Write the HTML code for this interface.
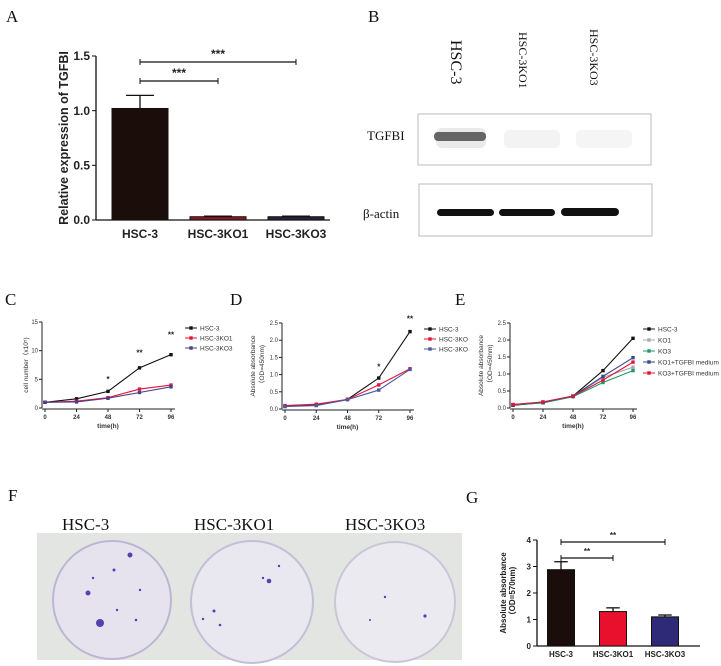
<!DOCTYPE html>
<html><head><meta charset="utf-8"><style>
body{margin:0;background:#fff;}
svg{display:block;font-family:"Liberation Sans",sans-serif;}
.lbl{font-family:"Liberation Serif","Noto Serif CJK SC",serif;}
</style></head><body>
<svg id="fig" width="721" height="666" viewBox="0 0 721 666">
<g class="lbl" font-size="17" fill="#111">
<text x="6" y="22">A</text><text x="368" y="22">B</text><text x="5" y="305">C</text>
<text x="230" y="305">D</text><text x="455" y="305">E</text><text x="8" y="501">F</text><text x="466" y="503">G</text>
</g>
<!-- Panel B western blot -->
<g>
<g class="lbl" font-size="14" fill="#111">
<text transform="translate(451,40) rotate(90)" font-size="16">HSC-3</text>
<text transform="translate(519,32) rotate(90)" font-size="12">HSC-3KO1</text>
<text transform="translate(590,29) rotate(90)" font-size="12">HSC-3KO3</text>
<text x="367" y="140" font-size="13">TGFBI</text>
<text x="363" y="218" font-size="13">β-actin</text>
</g>
<rect x="418" y="114" width="233" height="51" fill="#fff" stroke="#bbb"/>
<rect x="436" y="128" width="50" height="20" rx="6" fill="#aaa" opacity="0.25"/>
<rect x="434" y="132" width="52" height="9" rx="4" fill="#444" opacity="0.8"/>
<rect x="504" y="130" width="56" height="18" rx="5" fill="#f3f3f3"/>
<rect x="576" y="130" width="56" height="18" rx="5" fill="#f5f5f5"/>
<rect x="419" y="184" width="233" height="52" fill="#fff" stroke="#bbb"/>
<rect x="437" y="209" width="57" height="7" rx="3.5" fill="#111"/>
<rect x="499" y="209" width="56" height="7" rx="3.5" fill="#111"/>
<rect x="561" y="208" width="58" height="8" rx="4" fill="#111"/>
</g>
<!-- Panel F photo -->
<g>
<text class="lbl" x="62" y="530" font-size="17" fill="#111">HSC-3</text>
<text class="lbl" x="194" y="530" font-size="17" fill="#111">HSC-3KO1</text>
<text class="lbl" x="345" y="530" font-size="17" fill="#111">HSC-3KO3</text>
<rect x="37" y="533" width="425" height="127" fill="#e3e5e3"/>
<circle cx="112" cy="600" r="59" fill="#e6e3ef" stroke="#bdb6d3" stroke-width="2"/>
<circle cx="252" cy="602" r="61" fill="#e9e7f0" stroke="#c4bfd6" stroke-width="2"/>
<circle cx="395" cy="602" r="60" fill="#ebeaf0" stroke="#cac6d8" stroke-width="2"/>
<g fill="#5a3fb0">
<circle cx="100" cy="623" r="4"/><circle cx="88" cy="593" r="2.5"/><circle cx="130" cy="555" r="2.5"/><circle cx="114" cy="570" r="1.5"/><circle cx="136" cy="620" r="1.3"/><circle cx="93" cy="578" r="1.2"/><circle cx="117" cy="610" r="1.2"/><circle cx="140" cy="590" r="1.2"/>
<circle cx="269" cy="581" r="2.3"/><circle cx="214" cy="611" r="1.5"/><circle cx="220" cy="625" r="1.3"/><circle cx="279" cy="566" r="1.2"/><circle cx="263" cy="578" r="1.2"/><circle cx="203" cy="619" r="1.2"/>
<circle cx="425" cy="616" r="1.6"/><circle cx="385" cy="597" r="1.2"/><circle cx="370" cy="620" r="1"/>
</g>
</g>
<g id="charts"></g>
</svg>
<script>
// ---- Panel A data ----
const aCats = ["HSC-3","HSC-3KO1","HSC-3KO3"];
const aVals = [1.02, 0.03, 0.03];
const aErr = [0.12, 0.005, 0.005];
const aTicks = [0, 0.5, 1.0, 1.5];
const aTickLbl = ["0.0","0.5","1.0","1.5"];
// ---- Panel G data ----
const gCats = ["HSC-3","HSC-3KO1","HSC-3KO3"];
const gVals = [2.88, 1.3, 1.1];
const gErr = [0.3, 0.14, 0.07];
const gTicks = [0,1,2,3,4];
// ---- Panel C data ----
const times = [0,24,48,72,96];
const cSeries = ["HSC-3","HSC-3KO1","HSC-3KO3"];
const cHSC3 = [1,1.6,2.9,7,9.3];
const cKO1 = [1,1.2,1.8,3.3,4];
const cKO3 = [1,1.05,1.7,2.7,3.7];
const cTicks = [0,5,10,15];
// ---- Panel D data ----
const dSeries = ["HSC-3","HSC-3KO","HSC-3KO"];
const dHSC3 = [0.08,0.12,0.28,0.9,2.25];
const dKO1 = [0.1,0.14,0.28,0.7,1.17];
const dKO3 = [0.07,0.1,0.27,0.55,1.15];
const odTicks = [0,0.5,1.0,1.5,2.0,2.5];
const odTickLbl = ["0.0","0.5","1.0","1.5","2.0","2.5"];
// ---- Panel E data ----
const eSeries = ["HSC-3","KO1","KO3","KO1+TGFBI  medium","KO3+TGFBI  medium"];
const eHSC3 = [0.08,0.16,0.35,1.1,2.05];
const eKO1 = [0.1,0.17,0.35,0.9,1.2];
const eKO3 = [0.09,0.15,0.33,0.75,1.1];
const eKO1T = [0.1,0.17,0.35,0.93,1.48];
const eKO3T = [0.1,0.18,0.35,0.82,1.35];

const NS="http://www.w3.org/2000/svg";
const root=document.getElementById('charts');
function el(tag,attrs,parent,text){const e=document.createElementNS(NS,tag);for(const k in attrs)e.setAttribute(k,attrs[k]);if(text!==undefined)e.textContent=text;(parent||root).appendChild(e);return e;}

function barChart(name,cfg,cats,vals,errs,ticks,tickLbl,colors,sigs){
  const g=el('g',{});
  
  
  const y=v=>cfg.y0-(v-ticks[0])/(ticks[ticks.length-1]-ticks[0])*(cfg.y0-cfg.y1);
  el('line',{x1:cfg.x0,y1:cfg.y0,x2:cfg.x0,y2:cfg.y1,stroke:'#111','stroke-width':1.3},g);
  el('line',{x1:cfg.x0,y1:cfg.y0,x2:cfg.xEnd,y2:cfg.y0,stroke:'#111','stroke-width':1.3},g);
  ticks.forEach((t,i)=>{el('line',{x1:cfg.x0-4,x2:cfg.x0,y1:y(t),y2:y(t),stroke:'#111'},g);
    el('text',{x:cfg.x0-6,y:y(t)+cfg.fs*0.35,'text-anchor':'end','font-size':cfg.fs,'font-weight':'bold',fill:'#222'},g,tickLbl?tickLbl[i]:String(t));});
  vals.forEach((v,i)=>{const cx=cfg.bx0+i*cfg.step;
    const r=el('rect',{x:cx-cfg.bw/2,y:y(v),width:cfg.bw,height:cfg.y0-y(v),fill:colors[i],stroke:'#111'},g);
    
    
    el('line',{x1:cx,x2:cx,y1:y(v),y2:y(v+errs[i]),stroke:'#111','stroke-width':1.3},g);
    el('line',{x1:cx-cfg.bw/4,x2:cx+cfg.bw/4,y1:y(v+errs[i]),y2:y(v+errs[i]),stroke:'#111','stroke-width':1.3},g);
    el('text',{x:cx,y:cfg.y0+cfg.lblDy,'text-anchor':'middle','font-size':cfg.fs,'font-weight':'bold',fill:'#222'},g,cats[i]);});
  sigs.forEach(s=>{const x1=cfg.bx0+s.a*cfg.step,x2=cfg.bx0+s.b*cfg.step;
    el('line',{x1:x1,x2:x2,y1:s.y,y2:s.y,stroke:'#111','stroke-width':1.2},g);
    el('line',{x1:x1,x2:x1,y1:s.y-3,y2:s.y+3,stroke:'#111'},g);el('line',{x1:x2,x2:x2,y1:s.y-3,y2:s.y+3,stroke:'#111'},g);
    el('text',{x:(x1+x2)/2,y:s.y-4,'text-anchor':'middle','font-size':cfg.fs,'font-weight':'bold',fill:'#222'},g,s.t);});
  el('text',{transform:`translate(${cfg.titleX},${(cfg.y0+cfg.y1)/2}) rotate(-90)`,'text-anchor':'middle','font-size':cfg.tfs,'font-weight':'bold',fill:'#222'},g,cfg.title);
  if(cfg.title2)el('text',{transform:`translate(${cfg.titleX+9},${(cfg.y0+cfg.y1)/2}) rotate(-90)`,'text-anchor':'middle','font-size':cfg.tfs,'font-weight':'bold',fill:'#222'},g,cfg.title2);
}
barChart('chart-a-tgfbi-expression',{x0:96,xEnd:330,y0:220,y1:56,bx0:140,step:78,bw:56,fs:12,lblDy:18,titleX:68,tfs:12.5,title:'Relative expression of TGFBI'},
  aCats,aVals,aErr,aTicks,aTickLbl,['#1a0d0a','#8a1a20','#2a2040'],[{a:0,b:1,y:81,t:'***'},{a:0,b:2,y:62,t:'***'}]);
barChart('chart-g-colony-absorbance',{x0:537,xEnd:700,y0:646,y1:540,bx0:561,step:52,bw:27,fs:8,lblDy:11,titleX:506,tfs:8,title:'Absolute absorbance',title2:'（OD=570nm)'},
  gCats,gVals,gErr,gTicks,null,['#1a0d0a','#e8102c','#2e2a78'],[{a:0,b:1,y:558,t:'**'},{a:0,b:2,y:542,t:'**'}]);

function lineChart(name,cfg,series,data,colors,ticks,tickLbl,stars){
  const g=el('g',{});
  
  
  const x=t=>cfg.x0+(t-times[0])/(times[times.length-1]-times[0])*(cfg.x1-cfg.x0);
  const y=v=>cfg.y0-(v-ticks[0])/(ticks[ticks.length-1]-ticks[0])*(cfg.y0-cfg.y1);
  el('line',{x1:cfg.x0-3,y1:cfg.y0,x2:cfg.x0-3,y2:cfg.y1,stroke:'#222'},g);
  el('line',{x1:cfg.x0-3,y1:cfg.y0+1,x2:cfg.x1+4,y2:cfg.y0+1,stroke:'#222'},g);
  ticks.forEach((t,i)=>{el('line',{x1:cfg.x0-6,x2:cfg.x0-3,y1:y(t),y2:y(t),stroke:'#222'},g);
    el('text',{x:cfg.x0-7,y:y(t)+2,'text-anchor':'end','font-size':6,fill:'#333'},g,tickLbl?tickLbl[i]:String(t));});
  times.forEach(t=>{el('line',{x1:x(t),x2:x(t),y1:cfg.y0+1,y2:cfg.y0+4,stroke:'#222'},g);
    el('text',{x:x(t),y:cfg.y0+11,'text-anchor':'middle','font-size':6,'font-weight':'bold',fill:'#333'},g,String(t));});
  el('text',{x:(cfg.x0+cfg.x1)/2,y:cfg.y0+20,'text-anchor':'middle','font-size':6.5,'font-weight':'bold',fill:'#333'},g,'time(h)');
  el('text',{transform:`translate(${cfg.x0-cfg.tx},${(cfg.y0+cfg.y1)/2}) rotate(-90)`,'text-anchor':'middle','font-size':6.5,fill:'#333'},g,cfg.title);
  if(cfg.title2)el('text',{transform:`translate(${cfg.x0-cfg.tx+9},${(cfg.y0+cfg.y1)/2}) rotate(-90)`,'text-anchor':'middle','font-size':6.5,fill:'#333'},g,cfg.title2);
  data.forEach((d,si)=>{
    const pts=d.map((v,i)=>x(times[i])+','+y(v)).join(' ');
    const pl=el('polyline',{points:pts,fill:'none',stroke:colors[si],'stroke-width':1.1},g);
    
    
    d.forEach((v,i)=>el('rect',{x:x(times[i])-1.7,y:y(v)-1.7,width:3.4,height:3.4,fill:colors[si]},g));
    const ly=cfg.ly+si*cfg.lstep;
    el('line',{x1:cfg.lx,x2:cfg.lx+12,y1:ly,y2:ly,stroke:colors[si]},g);
    el('rect',{x:cfg.lx+4.3,y:ly-1.7,width:3.4,height:3.4,fill:colors[si]},g);
    const lt=el('text',{x:cfg.lx+15,y:ly+2.3,'font-size':6.5,fill:'#333'},g,series[si]);
    
    
  });
  stars.forEach(s=>el('text',{x:x(s.t),y:y(s.v),'text-anchor':'middle','font-size':8,'font-weight':'bold',fill:'#222'},g,s.s));
}
lineChart('chart-c-cell-number',{x0:45,x1:171,y0:408,y1:322,ly:328,lstep:10,lx:185,tx:17,title:'cell number（x10⁵)'},
  cSeries,[cHSC3,cKO1,cKO3],['#111','#e0153a','#4a3f8c'],cTicks,null,[{t:48,v:4.5,s:'*'},{t:72,v:9.2,s:'**'},{t:96,v:12.3,s:'**'}]);
lineChart('chart-d-absorbance',{x0:285,x1:410,y0:409,y1:323,ly:329,lstep:10,lx:424,tx:30,title:'Absolute absorbance',title2:'（OD=450nm)'},
  dSeries,[dHSC3,dKO1,dKO3],['#111','#e0153a','#4a5aa0'],odTicks,odTickLbl,[{t:72,v:1.15,s:'*'},{t:96,v:2.55,s:'**'}]);
lineChart('chart-e-absorbance-rescue',{x0:513,x1:633,y0:408,y1:323,ly:329,lstep:11,lx:643,tx:30,title:'Absolute absorbance',title2:'（OD=450nm)'},
  eSeries,[eHSC3,eKO1,eKO3,eKO1T,eKO3T],['#111','#aaa','#1e9a6a','#3a4a8a','#e0153a'],odTicks,odTickLbl,[]);
</script>
</body></html>
